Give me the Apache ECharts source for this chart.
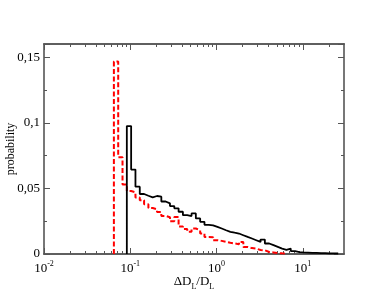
<!DOCTYPE html>
<html><head><meta charset="utf-8">
<script src="https://cdn.jsdelivr.net/npm/echarts@6/dist/echarts.min.js"></script>
<style>html,body{margin:0;padding:0;background:#fff}#c{width:387px;height:299px}</style>
</head><body><div id="c"></div>
<script>
// Histogram bin grid (log10 of lower edge of first bin, bin width in dex)
const binLogStart = -1.19;
const binLogWidth = 0.05;
// black solid histogram: first bin index and probabilities
const blackFirstBin = 3;
const blackValues = [
  0.0975, 0.0643, 0.0513, 0.0457, 0.0444, 0.0432, 0.0442, 0.0437, 0.0400, 0.0386,
  0.0365, 0.0348, 0.0322, 0.0296, 0.0289, 0.0309, 0.0271, 0.0245, 0.0222, 0.0218,
  0.0207, 0.0194, 0.0181, 0.0169, 0.0162, 0.0156, 0.0143, 0.0130, 0.0118, 0.0105,
  0.0092, 0.0110, 0.0080, 0.0067, 0.0054, 0.0041, 0.0032, 0.0041, 0.0022, 0.0015,
  0.0012, 0.0011, 0.0008, 0.0008, 0.0006, 0.0006, 0.0005, 0.0004, 0.0004
];
// red dashed histogram
const redFirstBin = 0;
const redValues = [
  0.1466, 0.0738, 0.0530, 0.0480, 0.0470, 0.0430, 0.0410, 0.0380, 0.0350, 0.0340,
  0.0320, 0.0290, 0.0280, 0.0250, 0.0282, 0.0210, 0.0190, 0.0170, 0.0194, 0.0180,
  0.0156, 0.0130, 0.0128, 0.0105, 0.0100, 0.0092, 0.0085, 0.0080, 0.0075, 0.0092,
  0.0054, 0.0045, 0.0041, 0.0030, 0.0028, 0.0015, 0.0012, 0.0008, 0.0005, 0.0003
];
const xMajorTicks = [0.01, 0.1, 1, 10];
const xMinorTicks = [0.02,0.03,0.04,0.05,0.06,0.07,0.08,0.09,0.2,0.3,0.4,0.5,0.6,0.7,0.8,0.9,2,3,4,5,6,7,8,9,20];
const yTickLabels = {0: '0', 0.05: '0,05', 0.1: '0,1', 0.15: '0,15'};

function edge(k){ return Math.pow(10, binLogStart + k * binLogWidth); }
function stepData(first, vals){
  const d = [[edge(first), 0]];
  vals.forEach((v, i) => d.push([edge(first + i), v]));
  d.push([edge(first + vals.length), 0]);
  return d;
}
const serif = '"Liberation Serif", "Times New Roman", serif';
const axisCol = '#555';
function xAxisDef(pos, major, labels){
  return {
    type: 'log', logBase: 10, min: 0.01, max: 30, position: pos,
    axisLine: {show: true, onZero: false, lineStyle: {color: axisCol, width: 1.6}},
    axisTick: {show: true, inside: true, length: major ? 6 : 3, customValues: major ? xMajorTicks : xMinorTicks,
               lineStyle: {color: axisCol, width: 1}},
    axisLabel: labels ? {show: true, customValues: xMajorTicks, margin: 6,
      formatter: v => '{b|10}{s|' + Math.round(Math.log10(v)) + '}',
      rich: {b: {fontFamily: serif, fontSize: 13, color: '#000', verticalAlign: 'bottom'},
             s: {fontFamily: serif, fontSize: 8, color: '#000', verticalAlign: 'bottom', padding: [0,0,7,0]}}}
      : {show: false},
    splitLine: {show: false},
    name: labels ? '{m|ΔD}{sub|L}{m|/D}{sub|L}' : '',
    nameLocation: 'middle', nameGap: 21, nameMoveOverlap: false,
    nameTextStyle: {rich: {m: {fontFamily: serif, fontSize: 13, color: '#000', verticalAlign: 'bottom', padding: [0,0,3,0]},
                           sub: {fontFamily: serif, fontSize: 8, color: '#000', verticalAlign: 'bottom'}}}
  };
}
function yAxisDef(pos, labels){
  return {
    type: 'value', min: 0, max: 0.16, interval: 0.05, position: pos,
    axisLine: {show: true, lineStyle: {color: axisCol, width: 1.6}},
    axisTick: {show: true, inside: true, length: 6, lineStyle: {color: axisCol, width: 1}},
    minorTick: {show: true, splitNumber: 2, length: 3, lineStyle: {color: axisCol, width: 1}},
    axisLabel: labels ? {show: true, margin: 4, fontFamily: serif, fontSize: 13, color: '#000',
      formatter: v => yTickLabels[Math.round(v*100)/100] !== undefined ? yTickLabels[Math.round(v*100)/100] : ''} : {show: false},
    splitLine: {show: false}, minorSplitLine: {show: false},
    name: labels ? 'probability' : '', nameLocation: 'middle', nameGap: 27, nameMoveOverlap: false,
    nameTextStyle: {fontFamily: serif, fontSize: 12, color: '#000'}
  };
}
const chart = echarts.init(document.getElementById('c'), null, {renderer: 'canvas'});
chart.setOption({
  animation: false,
  grid: {left: 44, right: 43, top: 44, bottom: 45, containLabel: false, outerBoundsMode: 'none'},
  xAxis: [xAxisDef('bottom', true, true), xAxisDef('bottom', false, false),
          xAxisDef('top', true, false), xAxisDef('top', false, false)],
  yAxis: [yAxisDef('left', true), yAxisDef('right', false)],
  series: [
    {type: 'line', step: 'end', xAxisIndex: 0, yAxisIndex: 0, data: stepData(redFirstBin, redValues),
     showSymbol: false, symbol: 'none', lineStyle: {color: '#ff0000', width: 2, type: [5, 2.5]}, z: 3},
    {type: 'line', step: 'end', xAxisIndex: 0, yAxisIndex: 0, data: stepData(blackFirstBin, blackValues),
     showSymbol: false, symbol: 'none', lineStyle: {color: '#000', width: 1.8}, z: 4}
  ]
});
</script></body></html>
